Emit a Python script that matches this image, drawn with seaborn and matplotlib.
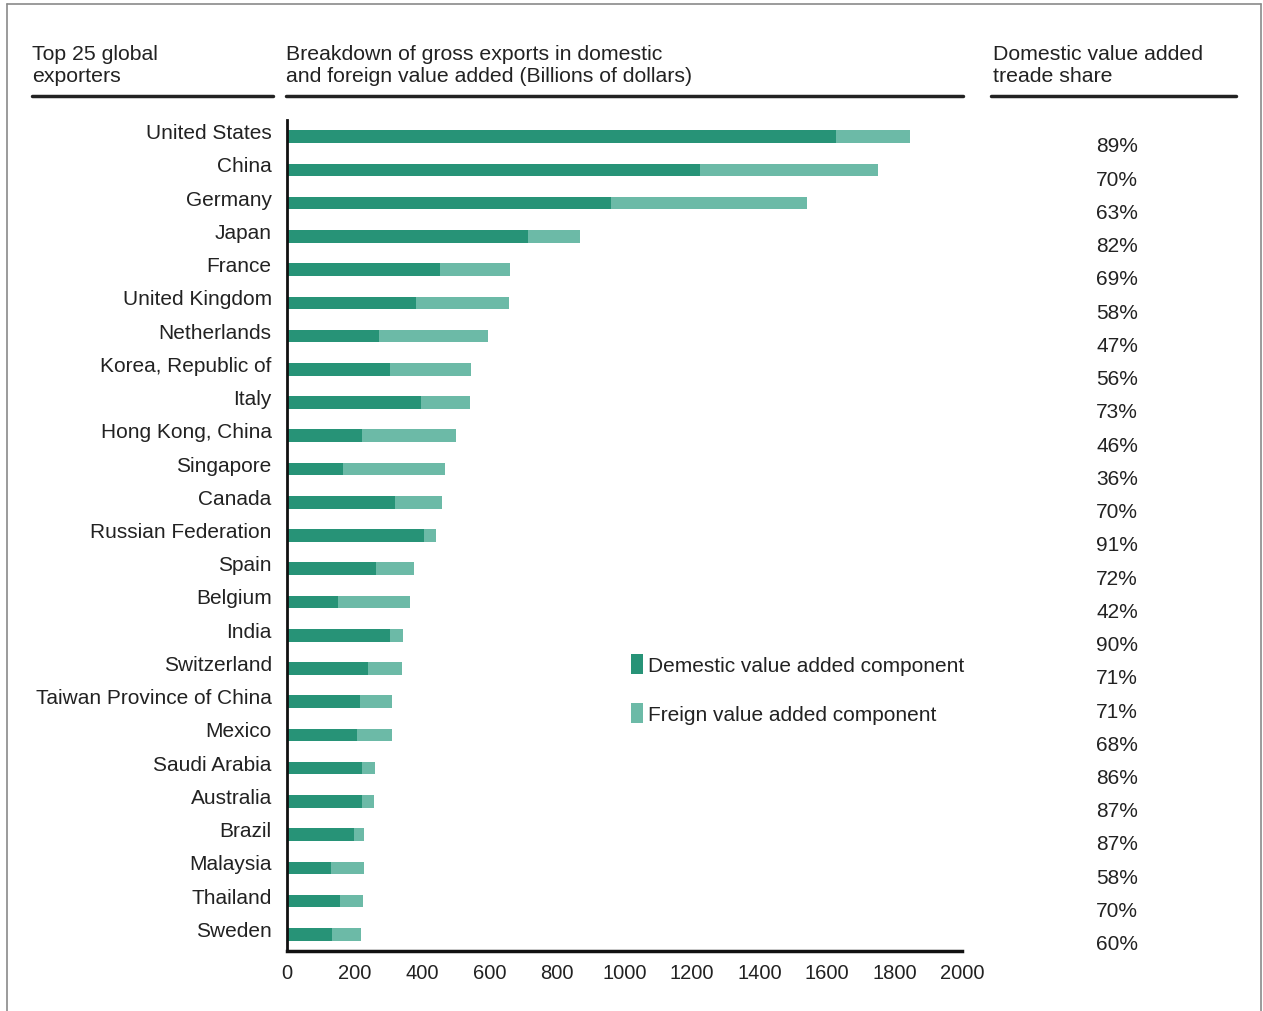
import numpy as np
import pandas as pd
import matplotlib
matplotlib.use("Agg")
import matplotlib.pyplot as plt
import seaborn as sns
from matplotlib.lines import Line2D
from matplotlib.transforms import ScaledTranslation, blended_transform_factory

# --- Datos ---
countries = ["United States", "China", "Germany", "Japan", "France", "United Kingdom",
             "Netherlands", "Korea, Republic of", "Italy", "Hong Kong, China", "Singapore",
             "Canada", "Russian Federation", "Spain", "Belgium", "India", "Switzerland",
             "Taiwan Province of China", "Mexico", "Saudi Arabia", "Australia", "Brazil",
             "Malaysia", "Thailand", "Sweden"]
domestic = [1627, 1224, 960, 714, 453, 382, 273, 305, 397, 222, 166, 320, 406, 264,
            151, 305, 240, 216, 207, 222, 222, 199, 130, 157, 133]
foreign = [219, 527, 581, 154, 208, 276, 323, 240, 145, 279, 302, 139, 35, 112,
           213, 39, 101, 95, 104, 39, 36, 29, 98, 68, 86]
dva_share = ["89%", "70%", "63%", "82%", "69%", "58%", "47%", "56%", "73%", "46%",
             "36%", "70%", "91%", "72%", "42%", "90%", "71%", "71%", "68%", "86%",
             "87%", "87%", "58%", "70%", "60%"]
x_ticks = [0, 200, 400, 600, 800, 1000, 1200, 1400, 1600, 1800, 2000]

df = pd.DataFrame({"country": countries, "domestic": domestic, "foreign": foreign})
df["total"] = df["domestic"] + df["foreign"]

dark = "#279377"
light = "#6cbaa7"
txt = "#222222"

sns.set_style("white")
plt.rcParams["font.family"] = ["Liberation Sans", "DejaVu Sans"]

W, H = 1263, 1012
fig = plt.figure(figsize=(W / 100, H / 100), dpi=100)
ax = fig.add_axes([287 / W, 1 - 952 / H, (962 - 287) / W, (952 - 121) / H])

# barra total (componente extranjero) y encima la doméstica
sns.barplot(data=df, x="total", y="country", color=light, saturation=1, width=0.38,
            orient="h", ax=ax, linewidth=0, label="Freign value added component")
sns.barplot(data=df, x="domestic", y="country", color=dark, saturation=1, width=0.38,
            orient="h", ax=ax, linewidth=0, label="Demestic value added component")

ax.set_xlim(0, 2000)
ax.set_ylim(24.5, -0.5)
ax.set_xticks(x_ticks)
ax.set_xlabel("")
ax.set_ylabel("")
ax.tick_params(axis="x", length=0, pad=9, labelsize=14.5, labelcolor=txt)
ax.tick_params(axis="y", length=0, pad=11, labelsize=15, labelcolor=txt)
for lab in ax.get_yticklabels():
    lab.set_transform(lab.get_transform() + ScaledTranslation(0, 0.06, fig.dpi_scale_trans))

for s in ["top", "right"]:
    ax.spines[s].set_visible(False)
ax.spines["left"].set_linewidth(2)
ax.spines["bottom"].set_linewidth(2.5)
ax.spines["left"].set_color("#111111")
ax.spines["bottom"].set_color("#111111")

# porcentajes de la derecha
tr = blended_transform_factory(fig.transFigure, ax.transData)
for i, s in enumerate(dva_share):
    ax.text(1117 / W, i + 0.28, s, transform=tr, ha="center", va="center",
            fontsize=15, color=txt)

# leyenda
h, l = ax.get_legend_handles_labels()
ax.legend(h[::-1], l[::-1], loc="upper left", bbox_to_anchor=(612 / W, 1 - 636 / H),
          bbox_transform=fig.transFigure, frameon=False, fontsize=15,
          handlelength=0.6, handleheight=1.1, handletextpad=0.25, labelspacing=1.35,
          labelcolor=txt)

# encabezados
hdr = dict(fontsize=15.3, color=txt, va="top", ha="left", linespacing=1.22)
fig.text(32 / W, 1 - 45 / H, "Top 25 global\nexporters", **hdr)
fig.text(286 / W, 1 - 45 / H,
         "Breakdown of gross exports in domestic\nand foreign value added (Billions of dollars)", **hdr)
fig.text(993 / W, 1 - 45 / H, "Domestic value added\ntreade share", **hdr)
for x0, x1 in [(32, 273), (286, 963), (991, 1236)]:
    fig.add_artist(Line2D([x0 / W, x1 / W], [1 - 97 / H, 1 - 97 / H], color="#222222",
                          lw=2.5, transform=fig.transFigure))

# marco exterior
for xs, ys in [([7, 7], [5, H]), ([7, 1261], [5, 5]), ([1261, 1261], [5, H])]:
    fig.add_artist(Line2D([x / W for x in xs], [1 - y / H for y in ys], color="#8a8a8a",
                          lw=1.2, transform=fig.transFigure))

fig.savefig("out.png", dpi=100)
